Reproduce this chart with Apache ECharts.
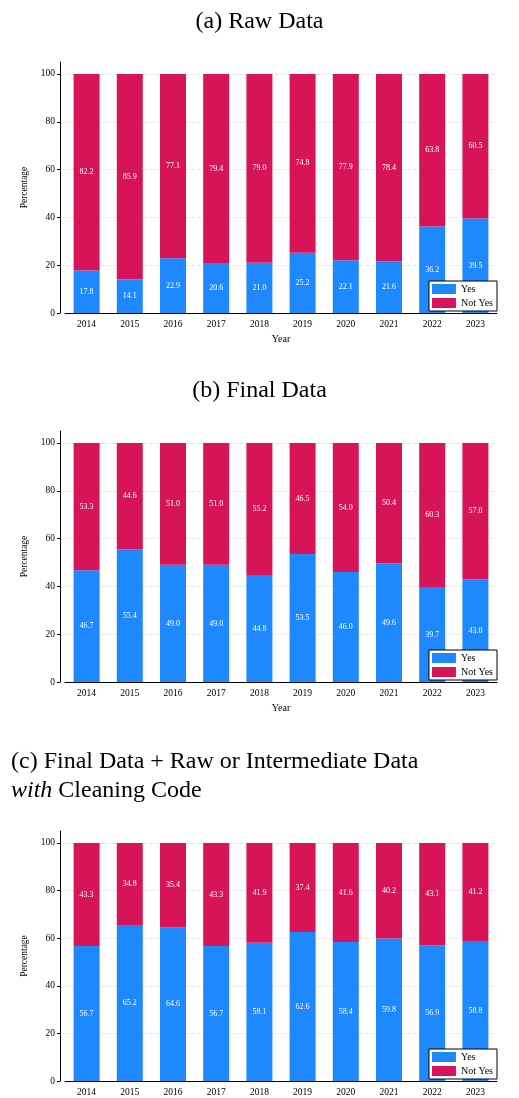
<!DOCTYPE html>
<html>
<head>
<meta charset="utf-8">
<script src="https://cdn.jsdelivr.net/npm/echarts@6/dist/echarts.min.js"></script>
<style>html,body{margin:0;padding:0;background:#fff}#chart{width:519px;height:1098px}</style>
</head>
<body>
<div id="chart"></div>
<script>
(function(){
  var years = ['2014','2015','2016','2017','2018','2019','2020','2021','2022','2023'];
  var rawYes = [17.8, 14.1, 22.9, 20.6, 21.0, 25.2, 22.1, 21.6, 36.2, 39.5];
  var rawNot = [82.2, 85.9, 77.1, 79.4, 79.0, 74.8, 77.9, 78.4, 63.8, 60.5];
  var finalYes = [46.7, 55.4, 49.0, 49.0, 44.8, 53.5, 46.0, 49.6, 39.7, 43.0];
  var finalNot = [53.3, 44.6, 51.0, 51.0, 55.2, 46.5, 54.0, 50.4, 60.3, 57.0];
  var cleanYes = [56.7, 65.2, 64.6, 56.7, 58.1, 62.6, 58.4, 59.8, 56.9, 58.8];
  var cleanNot = [43.3, 34.8, 35.4, 43.3, 41.9, 37.4, 41.6, 40.2, 43.1, 41.2];
  var yTicks = [0, 20, 40, 60, 80, 100];

  var serif = 'Liberation Serif';
  var blue = '#1e88ff', red = '#d81459';
  var panels = [
    {yes: rawYes, not: rawNot, top: 62, height: 251, xname: 'Year'},
    {yes: finalYes, not: finalNot, top: 431, height: 251, xname: 'Year'},
    {yes: cleanYes, not: cleanNot, top: 831, height: 250, xname: ''}
  ];

  var grid = [], xAxis = [], yAxis = [], series = [], legend = [];
  panels.forEach(function(p, i){
    grid.push({left: 65, right: 22, top: p.top, height: p.height});
    xAxis.push({
      type: 'category', gridIndex: i, data: years,
      name: p.xname, nameLocation: 'middle', nameGap: 21,
      nameTextStyle: {fontFamily: serif, fontSize: 10, color: '#000'},
      axisLine: {lineStyle: {color: '#000'}},
      axisTick: {show: false},
      axisLabel: {fontFamily: serif, fontSize: 9.5, color: '#000', margin: 6}
    });
    yAxis.push({
      type: 'value', gridIndex: i, min: 0, max: 105, interval: 20,
      name: 'Percentage', nameLocation: 'middle', nameGap: 31, nameRotate: 90,
      nameTextStyle: {fontFamily: serif, fontSize: 9.5, color: '#000'},
      offset: 5,
      axisLine: {show: true, lineStyle: {color: '#000'}},
      axisTick: {show: true, length: 3, lineStyle: {color: '#000'}},
      axisLabel: {fontFamily: serif, fontSize: 9.5, color: '#000', margin: 5, showMaxLabel: false,
        formatter: function(v){ return yTicks.indexOf(v) >= 0 ? String(v) : ''; }},
      splitLine: {show: true, showMaxLine: false, lineStyle: {color: '#e6e6e6', type: 'dashed'}}
    });
    var lbl = {show: true, position: 'inside', color: '#fff', fontFamily: serif, fontSize: 8,
      formatter: function(d){ return d.value.toFixed(1); }};
    series.push({name: 'Yes', type: 'bar', stack: 's' + i, xAxisIndex: i, yAxisIndex: i,
      data: p.yes, barWidth: 26, itemStyle: {color: blue}, label: lbl});
    series.push({name: 'Not Yes', type: 'bar', stack: 's' + i, xAxisIndex: i, yAxisIndex: i,
      data: p.not, barWidth: 26, itemStyle: {color: red}, label: lbl});
    legend.push({
      data: ['Yes', 'Not Yes'], orient: 'vertical', right: 22,
      top: p.top + p.height - 32,
      itemWidth: 24, itemHeight: 10, itemGap: 4, padding: [3, 4, 3, 3],
      borderColor: '#000', borderWidth: 1, backgroundColor: '#fff',
      icon: 'rect', textStyle: {fontFamily: serif, fontSize: 10, color: '#000'}
    });
  });

  var tstyle = {fontFamily: serif, fontSize: 24, fontWeight: 'normal', color: '#000'};
  var option = {
    animation: false,
    title: [
      {text: '(a) Raw Data', left: 'center', top: 5, textStyle: tstyle},
      {text: '(b) Final Data', left: 'center', top: 374, textStyle: tstyle},
      {text: '(c) Final Data + Raw or Intermediate Data\n{i|with} Cleaning Code', left: 6, top: 742,
        textStyle: {fontFamily: serif, fontSize: 24, fontWeight: 'normal', color: '#000', lineHeight: 29,
          rich: {i: {fontFamily: serif, fontSize: 24, fontStyle: 'italic', color: '#000'}}}}
    ],
    legend: legend,
    grid: grid, xAxis: xAxis, yAxis: yAxis, series: series
  };
  var chart = echarts.init(document.getElementById('chart'));
  chart.setOption(option);
})();
</script>
</body>
</html>
